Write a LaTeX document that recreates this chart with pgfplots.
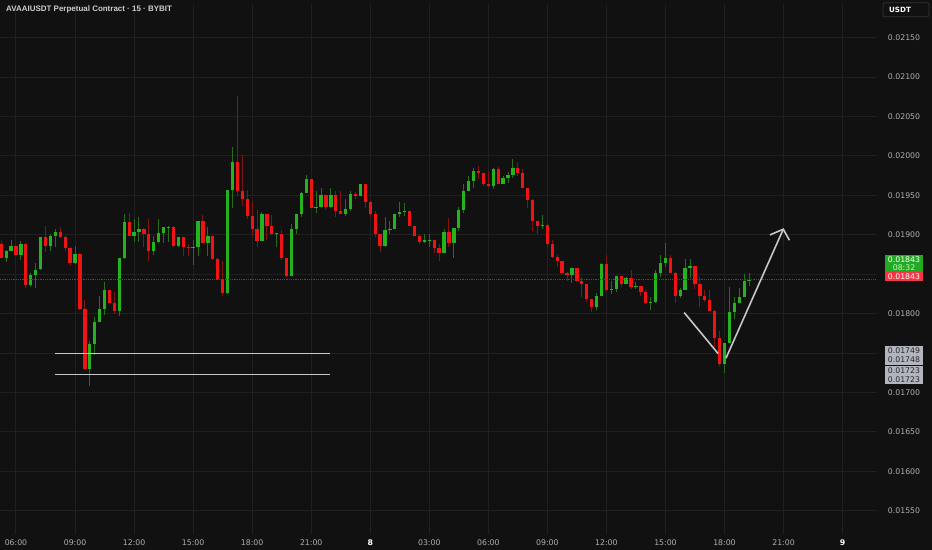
\documentclass[border=0pt]{standalone}
\usepackage{pgfplots}
\pgfplotsset{compat=1.18}
\usepackage{pgfplotstable}
\usepackage{fontspec}
\setmainfont{Liberation Sans}
\newfontfamily\tickfont{DejaVu Sans}

\definecolor{bg}{RGB}{17,17,17}
\definecolor{gridc}{RGB}{32,32,32}
\definecolor{upc}{RGB}{38,178,30}
\definecolor{upw}{RGB}{38,110,28}
\definecolor{dnc}{RGB}{238,20,20}
\definecolor{dnw}{RGB}{130,20,20}
\definecolor{curc}{RGB}{30,110,30}
\definecolor{linec}{RGB}{200,200,200}
\definecolor{tickc}{RGB}{175,175,178}
\definecolor{boxg}{RGB}{34,171,34}
\definecolor{boxr}{RGB}{242,54,69}
\definecolor{boxgray}{RGB}{178,181,190}

% 15 min candles, i = quarter hours after 06:00; rising candles
\pgfplotstableread{
i o h l c
-2 0.01871 0.01881 0.01866 0.01880
-1 0.01880 0.01894 0.01880 0.01886
1 0.01875 0.01892 0.01868 0.01888
3 0.01836 0.01852 0.01834 0.01849
4 0.01849 0.01864 0.01833 0.01856
5 0.01856 0.01897 0.01855 0.01897
7 0.01886 0.01901 0.01880 0.01899
8 0.01899 0.01908 0.01884 0.01904
12 0.01864 0.01886 0.01863 0.01876
15 0.01730 0.01765 0.01708 0.01762
16 0.01762 0.01796 0.01748 0.01789
17 0.01789 0.01822 0.01789 0.01806
18 0.01806 0.01840 0.01798 0.01830
21 0.01803 0.01871 0.01797 0.01870
22 0.01870 0.01926 0.01869 0.01916
24 0.01899 0.01920 0.01891 0.01904
25 0.01904 0.01923 0.01891 0.01907
28 0.01880 0.01899 0.01875 0.01891
29 0.01891 0.01920 0.01890 0.01902
30 0.01902 0.01910 0.01890 0.01910
31 0.01909 0.01911 0.01891 0.01910
33 0.01886 0.01897 0.01884 0.01897
36 0.01883 0.01893 0.01862 0.01885
37 0.01885 0.01918 0.01873 0.01918
39 0.01890 0.01910 0.01873 0.01898
43 0.01826 0.01957 0.01825 0.01957
44 0.01957 0.02012 0.01934 0.01992
50 0.01892 0.01929 0.01892 0.01927
53 0.01901 0.01902 0.01885 0.01902
56 0.01848 0.01914 0.01848 0.01908
57 0.01908 0.01926 0.01901 0.01926
58 0.01926 0.01954 0.01923 0.01953
59 0.01953 0.01976 0.01953 0.01971
61 0.01934 0.01955 0.01928 0.01935
62 0.01935 0.01960 0.01934 0.01950
64 0.01935 0.01959 0.01934 0.01950
67 0.01927 0.01945 0.01924 0.01933
68 0.01933 0.01955 0.01930 0.01952
70 0.01949 0.01965 0.01949 0.01964
75 0.01886 0.01923 0.01885 0.01906
76 0.01906 0.01918 0.01901 0.01908
77 0.01908 0.01926 0.01908 0.01926
78 0.01926 0.01942 0.01923 0.01929
79 0.01929 0.01940 0.01924 0.01930
83 0.01891 0.01901 0.01889 0.01893
84 0.01893 0.01901 0.01885 0.01894
87 0.01877 0.01907 0.01877 0.01903
89 0.01890 0.01909 0.01871 0.01909
90 0.01909 0.01935 0.01905 0.01932
91 0.01932 0.01964 0.01928 0.01956
92 0.01956 0.01974 0.01956 0.01968
93 0.01968 0.01985 0.01959 0.01981
97 0.01962 0.01985 0.01958 0.01983
99 0.01965 0.01975 0.01965 0.01972
100 0.01972 0.01980 0.01966 0.01976
101 0.01976 0.01996 0.01972 0.01985
107 0.01911 0.01925 0.01907 0.01912
113 0.01849 0.01858 0.01839 0.01858
118 0.01809 0.01826 0.01804 0.01823
119 0.01823 0.01864 0.01823 0.01863
121 0.01830 0.01842 0.01825 0.01831
122 0.01831 0.01848 0.01828 0.01848
124 0.01838 0.01846 0.01837 0.01845
126 0.01834 0.01840 0.01831 0.01835
129 0.01813 0.01821 0.01804 0.01815
130 0.01815 0.01856 0.01813 0.01852
131 0.01852 0.01875 0.01846 0.01864
132 0.01864 0.01890 0.01859 0.01870
135 0.01823 0.01832 0.01820 0.01830
136 0.01830 0.01869 0.01830 0.01858
137 0.01858 0.01869 0.01845 0.01860
144 0.01736 0.01763 0.01725 0.01763
145 0.01763 0.01834 0.01763 0.01802
146 0.01802 0.01821 0.01793 0.01814
147 0.01814 0.01833 0.01813 0.01821
148 0.01821 0.01850 0.01821 0.01841
149 0.01841 0.01852 0.01835 0.01843
}\upcandles

% falling candles
\pgfplotstableread{
i o h l c
-3 0.01888 0.01892 0.01870 0.01871
0 0.01886 0.01887 0.01874 0.01875
2 0.01888 0.01889 0.01832 0.01836
6 0.01897 0.01911 0.01878 0.01886
9 0.01904 0.01910 0.01896 0.01897
10 0.01897 0.01899 0.01880 0.01883
11 0.01883 0.01884 0.01861 0.01864
13 0.01876 0.01877 0.01805 0.01806
14 0.01806 0.01817 0.01729 0.01730
19 0.01830 0.01830 0.01813 0.01813
20 0.01813 0.01828 0.01800 0.01803
23 0.01916 0.01928 0.01898 0.01899
26 0.01907 0.01909 0.01884 0.01901
27 0.01901 0.01920 0.01867 0.01880
32 0.01910 0.01911 0.01884 0.01886
34 0.01897 0.01897 0.01873 0.01885
35 0.01885 0.01888 0.01873 0.01883
38 0.01918 0.01925 0.01889 0.01890
40 0.01898 0.01899 0.01868 0.01869
41 0.01869 0.01870 0.01843 0.01844
42 0.01844 0.01867 0.01823 0.01826
45 0.01992 0.02076 0.01949 0.01956
46 0.01956 0.02001 0.01937 0.01946
47 0.01946 0.01957 0.01920 0.01924
48 0.01924 0.01943 0.01899 0.01907
49 0.01907 0.01932 0.01885 0.01892
51 0.01927 0.01927 0.01894 0.01911
52 0.01911 0.01925 0.01900 0.01901
54 0.01901 0.01906 0.01868 0.01870
55 0.01870 0.01870 0.01846 0.01848
60 0.01971 0.01971 0.01934 0.01934
63 0.01950 0.01950 0.01932 0.01935
65 0.01950 0.01955 0.01923 0.01930
66 0.01930 0.01955 0.01927 0.01927
69 0.01952 0.01954 0.01945 0.01949
71 0.01964 0.01965 0.01934 0.01942
72 0.01942 0.01943 0.01922 0.01927
73 0.01927 0.01930 0.01897 0.01901
74 0.01901 0.01901 0.01878 0.01886
80 0.01930 0.01930 0.01911 0.01911
81 0.01911 0.01911 0.01899 0.01899
82 0.01899 0.01901 0.01888 0.01891
85 0.01894 0.01894 0.01877 0.01883
86 0.01883 0.01888 0.01867 0.01877
88 0.01903 0.01921 0.01885 0.01890
94 0.01981 0.01987 0.01971 0.01978
95 0.01978 0.01978 0.01962 0.01965
96 0.01965 0.01981 0.01959 0.01962
98 0.01983 0.01986 0.01965 0.01965
102 0.01985 0.01992 0.01975 0.01978
103 0.01978 0.01983 0.01959 0.01959
104 0.01959 0.01960 0.01934 0.01944
105 0.01944 0.01945 0.01905 0.01918
106 0.01918 0.01918 0.01901 0.01911
108 0.01912 0.01912 0.01885 0.01888
109 0.01888 0.01893 0.01871 0.01872
110 0.01872 0.01874 0.01859 0.01867
111 0.01867 0.01867 0.01850 0.01851
112 0.01851 0.01853 0.01842 0.01849
114 0.01858 0.01858 0.01840 0.01841
115 0.01841 0.01847 0.01821 0.01837
116 0.01837 0.01837 0.01815 0.01818
117 0.01818 0.01818 0.01802 0.01809
120 0.01863 0.01875 0.01829 0.01830
123 0.01848 0.01848 0.01834 0.01838
125 0.01845 0.01855 0.01831 0.01834
127 0.01835 0.01835 0.01823 0.01827
128 0.01827 0.01830 0.01812 0.01813
133 0.01870 0.01875 0.01852 0.01852
134 0.01852 0.01853 0.01814 0.01823
138 0.01860 0.01860 0.01831 0.01837
139 0.01837 0.01847 0.01809 0.01823
140 0.01823 0.01830 0.01815 0.01817
141 0.01817 0.01830 0.01803 0.01803
142 0.01803 0.01804 0.01758 0.01769
143 0.01769 0.01778 0.01734 0.01736
}\dncandles

\begin{document}
\begin{tikzpicture}[x=1bp,y=1bp]
\fill[bg] (0,0) rectangle (932,550);
\begin{axis}[
    at={(0,20)}, anchor=south west,
    scale only axis, width=877bp, height=530bp,
    xmin=-3.25, xmax=175,
    ymin=0.015202, ymax=0.021925,
    axis line style={draw=none},
    tick style={draw=none},
    grid=major,
    major grid style={draw=gridc, line width=1bp},
    xtick={0,12,...,168},
    xticklabels={06:00,09:00,12:00,15:00,18:00,21:00,\textcolor{white}{\bfseries 8},03:00,06:00,09:00,12:00,15:00,18:00,21:00,\textcolor{white}{\bfseries 9}},
    xticklabel style={font=\tickfont\fontsize{7.8}{9}\selectfont, text=tickc, anchor=center, yshift=-8bp},
    ytick={0.0155,0.016,0.0165,0.017,0.0175,0.018,0.0185,0.019,0.0195,0.02,0.0205,0.021,0.0215},
    yticklabels={0.01550,0.01600,0.01650,0.01700,,0.01800,,0.01900,0.01950,0.02000,0.02050,0.02100,0.02150},
    yticklabel pos=right,
    yticklabel style={font=\tickfont\fontsize{7.8}{9}\selectfont, text=tickc, anchor=center, xshift=27bp},
    quiver/scale arrows=1,
]
% wicks: from low to high
\addplot[upw, line width=1bp, -, forget plot, quiver={u=0, v=\thisrow{h}-\thisrow{l}}]
    table[x=i, y=l] {\upcandles};
\addplot[dnw, line width=1bp, -, forget plot, quiver={u=0, v=\thisrow{h}-\thisrow{l}}]
    table[x=i, y=l] {\dncandles};
% bodies: from open to close
\addplot[upc, line width=3.3bp, -, forget plot, quiver={u=0, v=\thisrow{c}-\thisrow{o}}]
    table[x=i, y=o] {\upcandles};
\addplot[dnc, line width=3.3bp, -, forget plot, quiver={u=0, v=\thisrow{c}-\thisrow{o}}]
    table[x=i, y=o] {\dncandles};

% last price
\addplot[curc, densely dotted, line width=0.8bp] coordinates {(-3.25,0.01843) (175,0.01843)};
% support lines
\addplot[linec, line width=1.2bp] coordinates {(7.9,0.01749) (63.8,0.01749)};
\addplot[linec, line width=1.2bp] coordinates {(7.9,0.01723) (63.8,0.01723)};
% V arrow
\addplot[linec, line width=1.6bp] coordinates {(135.8,0.018014) (142.7,0.017494)};
\addplot[linec, line width=1.6bp] coordinates {(144.3,0.017435) (155.95,0.019071)};
\addplot[linec, line width=1.6bp] coordinates {(153.25,0.018999) (155.95,0.019071) (157.2,0.018931)};
\end{axis}

% title
\node[anchor=west, text={rgb,255:red,205;green,205;blue,205}, font=\bfseries\fontsize{8}{10}\selectfont, inner sep=0] at (6,541) {AVAAIUSDT Perpetual Contract · 15 · BYBIT};
% currency button
\draw[rounded corners=2bp, draw={rgb,255:red,52;green,52;blue,52}, line width=0.8bp] (883,547.3) rectangle (929,533.3);
\node[text=white, font=\tickfont\bfseries\fontsize{7.2}{9}\selectfont, inner sep=0] at (900,540.3) {USDT};
% price labels
\fill[boxg] (885,295) rectangle (923,278);
\node[text=white, font=\tickfont\fontsize{7.8}{9}\selectfont, inner sep=0] at (904,290.5) {0.01843};
\node[text={rgb,255:red,200;green,240;blue,200}, font=\tickfont\fontsize{7.8}{9}\selectfont, inner sep=0] at (904,282.5) {08:32};
\fill[boxr] (885,278) rectangle (923,269);
\node[text=white, font=\tickfont\fontsize{7.8}{9}\selectfont, inner sep=0] at (904,273.5) {0.01843};
\fill[boxgray] (885,204) rectangle (923,185);
\node[text={rgb,255:red,40;green,40;blue,44}, font=\tickfont\fontsize{7.8}{9}\selectfont, inner sep=0] at (904,199.5) {0.01749};
\node[text={rgb,255:red,40;green,40;blue,44}, font=\tickfont\fontsize{7.8}{9}\selectfont, inner sep=0] at (904,190.5) {0.01748};
\fill[boxgray] (885,184) rectangle (923,166);
\node[text={rgb,255:red,40;green,40;blue,44}, font=\tickfont\fontsize{7.8}{9}\selectfont, inner sep=0] at (904,179.5) {0.01723};
\node[text={rgb,255:red,40;green,40;blue,44}, font=\tickfont\fontsize{7.8}{9}\selectfont, inner sep=0] at (904,170.5) {0.01723};
\pgfresetboundingbox
\useasboundingbox (0,0) rectangle (932,550);
\end{tikzpicture}
\end{document}
